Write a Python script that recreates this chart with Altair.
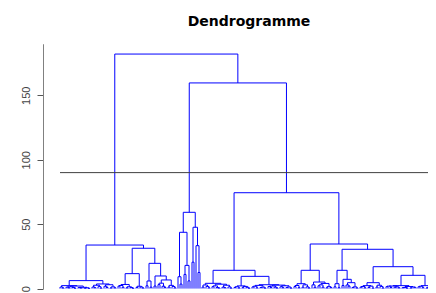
import altair as alt
import pandas as pd

title_text = "Dendrogramme"
cut_height = [90]
y_ticks = [0, 50, 100, 150]

# small bottom clusters: merge heights of each group (k heights -> k+1 leaves)
groups = [
    [1.2, 0.5],
    [2.0, 1.1, 0.6, 0.9, 0.3, 1.4, 0.5, 0.8, 0.4, 1.0, 0.2, 0.6],
    [2.6, 1.2, 0.7, 1.5, 0.4],
    [3.0, 1.8, 0.9, 0.5, 1.3, 0.6],
    [3.2, 1.9, 1.0, 2.4, 0.6, 1.4, 0.8, 0.3],
    [1.8, 0.9, 1.2, 0.5],
    [5.9, 2.2, 1.1],
    [2.0],
    [6.7, 3.1, 1.8, 4.2, 0.9, 2.5, 1.2, 0.6, 1.6],
    [9.2, 3.5],
    [18.0, 11.0, 6.0],
    [20.5],
    [33.3, 12.5],
    [2.8, 1.2, 0.6, 1.7],
    [3.4, 1.5, 2.1, 0.8, 0.5, 1.1, 2.6, 0.7, 1.3, 0.4],
    [2.1, 0.9, 1.4, 0.5, 1.7, 0.7, 1.0, 0.3],
    [2.5, 1.3, 0.6, 1.8, 0.9, 0.4, 1.1],
    [2.7, 1.6, 0.8, 2.0, 1.1, 0.5, 1.4, 0.7, 2.2, 0.9, 0.4, 1.2],
    [3.8, 1.6, 2.4, 0.7, 1.1, 2.9, 0.5, 1.3],
    [2.9, 1.0],
    [4.0, 2.2, 1.1, 2.9, 0.6, 1.5, 0.8],
    [3.8, 1.4, 0.7],
    [2.4],
    [4.6, 1.9, 2.8, 0.9, 1.3, 0.5],
    [2.3, 1.1, 1.6, 0.6, 0.9, 1.9, 0.4],
    [2.6, 1.2, 0.5, 1.7],
    [2.3, 1.5, 0.8, 1.9, 1.1, 0.6, 1.3, 2.0, 0.7, 0.4, 1.6, 0.9, 1.2, 0.5, 1.0],
    [2.3, 1.4, 0.7, 1.8, 0.5, 1.0, 0.6],
]

# upper tree: [merge height, left, right]; integers refer to groups above
tree = [182.0,
        [33.8,
         [6.2, [2.3, 0, 1], [3.6, 2, 3]],
         [31.3, [11.6, 4, 5], [19.6, 6, [9.8, 7, 8]]]],
        [159.6,
         [59.2, [43.7, 9, 10], [47.6, 11, 12]],
         [74.4,
          [14.2, [4.1, 13, 14], [9.5, 15, [3.0, 16, 17]]],
          [34.6,
           [14.2, 18, [5.1, 19, 20]],
           [30.5,
            [14.2, 21, [7.2, 22, 23]],
            [17.0, [4.6, 24, 25], [10.3, 26, 27]]]]]]]

segs = []
counter = [0]


def join(L, R, h):
    segs.append({"x": L[0], "x2": L[0], "y": L[1], "y2": h})
    segs.append({"x": R[0], "x2": R[0], "y": R[1], "y2": h})
    segs.append({"x": L[0], "x2": R[0], "y": h, "y2": h})


def build_group(hs):
    n = len(hs) + 1
    if n == 1:
        x = counter[0]
        counter[0] += 1
        return (float(x), 0.0)
    top = max(hs)
    i = hs.index(top)
    rest = hs[:i] + hs[i + 1:]
    nl = n // 2
    L = build_group(rest[:nl - 1])
    R = build_group(rest[nl - 1:])
    join(L, R, top)
    return ((L[0] + R[0]) / 2, top)


def build(node):
    if isinstance(node, int):
        return build_group(groups[node])
    h, l, r = node
    L = build(l)
    R = build(r)
    join(L, R, h)
    return ((L[0] + R[0]) / 2, h)


build(tree)
df = pd.DataFrame(segs)
n_leaves = counter[0]

xs = alt.Scale(domain=[0, n_leaves - 1], range=[17, 389], nice=False, zero=False)
ys = alt.Scale(domain=[0, 190], range=[280.6, 35.75], nice=False, zero=False)

seg = alt.Chart(df).mark_rule(color="#0000ff", strokeWidth=1).encode(
    x=alt.X("x:Q", scale=xs, axis=None),
    x2="x2:Q",
    y=alt.Y("y:Q", scale=ys, title=None,
            axis=alt.Axis(values=y_ticks, format="d", grid=False)),
    y2="y2:Q",
)

cut = alt.Chart(pd.DataFrame({"h": cut_height})).mark_rule(
    color="#404040", strokeWidth=1
).encode(
    y=alt.Y("h:Q", scale=ys, title=None),
    x=alt.value(17),
    x2=alt.value(400),
)

title = alt.Chart(pd.DataFrame({"t": [title_text]})).mark_text(
    font="DejaVu Sans", fontWeight="bold", fontSize=14,
    align="center", baseline="alphabetic", color="#000000"
).encode(
    text="t:N",
    x=alt.value(206),
    y=alt.value(18),
)

chart = alt.layer(seg, cut, title).properties(
    width=385, height=285,
    padding={"left": 35, "top": 0, "right": 0, "bottom": 0},
    autosize=alt.AutoSizeParams(type="none"),
).configure_view(strokeWidth=0).configure_axis(
    tickSize=6, tickColor="#555555", domainColor="#808080",
    labelAngle=270, labelAlign="center", labelBaseline="alphabetic",
    labelPadding=8, labelFont="Liberation Sans", labelFontSize=11,
    labelColor="#444444",
)

chart.save("out.html", embed_options={"renderer": "svg", "actions": False})
